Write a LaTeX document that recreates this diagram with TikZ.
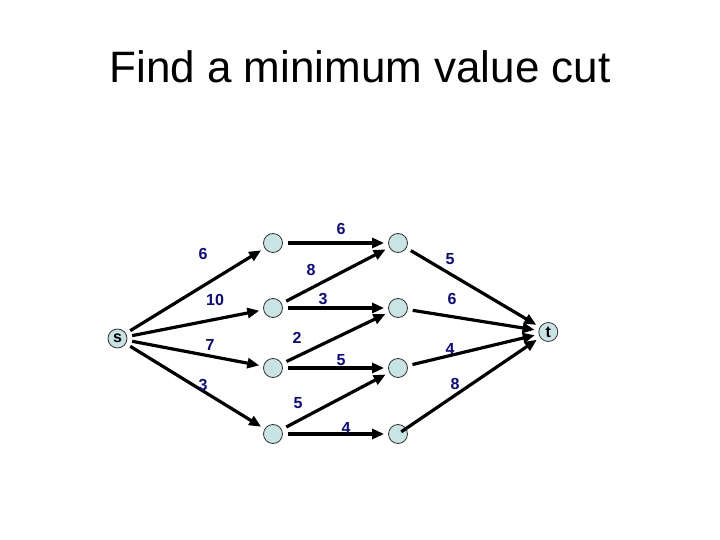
\documentclass[tikz,border=0pt]{standalone}
\usepackage{fontspec}
\setmainfont{Liberation Sans}
\usetikzlibrary{arrows.meta}
\definecolor{nodefill}{RGB}{200,228,228}
\definecolor{labblue}{RGB}{10,10,140}
\begin{document}
\begin{tikzpicture}[x=1pt,y=-1pt,
  vert/.style={circle,draw=black!80,line width=0.8pt,fill=nodefill,minimum size=19pt,inner sep=0pt,font=\fontsize{16}{16}\selectfont\bfseries},
  arc/.style={line width=3.2pt,-{Triangle[length=12pt,width=10pt]},shorten <=5pt,shorten >=4pt},
  lab/.style={text=labblue,font=\fontsize{16}{16}\selectfont\bfseries,inner sep=0pt}]
\useasboundingbox[fill=white] (0,0) rectangle (720,540);
\node[font=\fontsize{44}{44}\selectfont,anchor=base] (title) at (360,83) {Find a minimum value cut};
\node[vert] (s) at (117.5,338.5) {s};
\node[vert] (a) at (273,243) {};
\node[vert] (b) at (273,308) {};
\node[vert] (c) at (273,368) {};
\node[vert] (d) at (273,434) {};
\node[vert] (e) at (398,243) {};
\node[vert] (f) at (398,308) {};
\node[vert] (g) at (398,368) {};
\node[vert] (h) at (398,434) {};
\node[vert] (t) at (548.3,332) {t};
\draw[arc] (s) -- (a);
\draw[arc] (s) -- (b);
\draw[arc] (s) -- (c);
\draw[arc] (s) -- (d);
\draw[arc] (a) -- (e);
\draw[arc] (b) -- (e);
\draw[arc] (b) -- (f);
\draw[arc] (c) -- (f);
\draw[arc] (c) -- (g);
\draw[arc] (d) -- (g);
\draw[arc] (d) -- (h);
\draw[arc] (e) -- (t);
\draw[arc] (f) -- (t);
\draw[arc] (g) -- (t);
\draw[arc,shorten <=-6pt] (h) -- (t);
\node[lab] (l1) at (203,254) {6};
\node[lab] (l2) at (215,300) {10};
\node[lab] (l3) at (210,345) {7};
\node[lab] (l4) at (203,385) {3};
\node[lab] (l5) at (341,229) {6};
\node[lab] (l6) at (311,270) {8};
\node[lab] (l7) at (323,299) {3};
\node[lab] (l8) at (297,338) {2};
\node[lab] (l9) at (341,360) {5};
\node[lab] (l10) at (298,403) {5};
\node[lab] (l11) at (346,428) {4};
\node[lab] (l12) at (450,259) {5};
\node[lab] (l13) at (452,299) {6};
\node[lab] (l14) at (450,349) {4};
\node[lab] (l15) at (455,384) {8};
\end{tikzpicture}
\end{document}
